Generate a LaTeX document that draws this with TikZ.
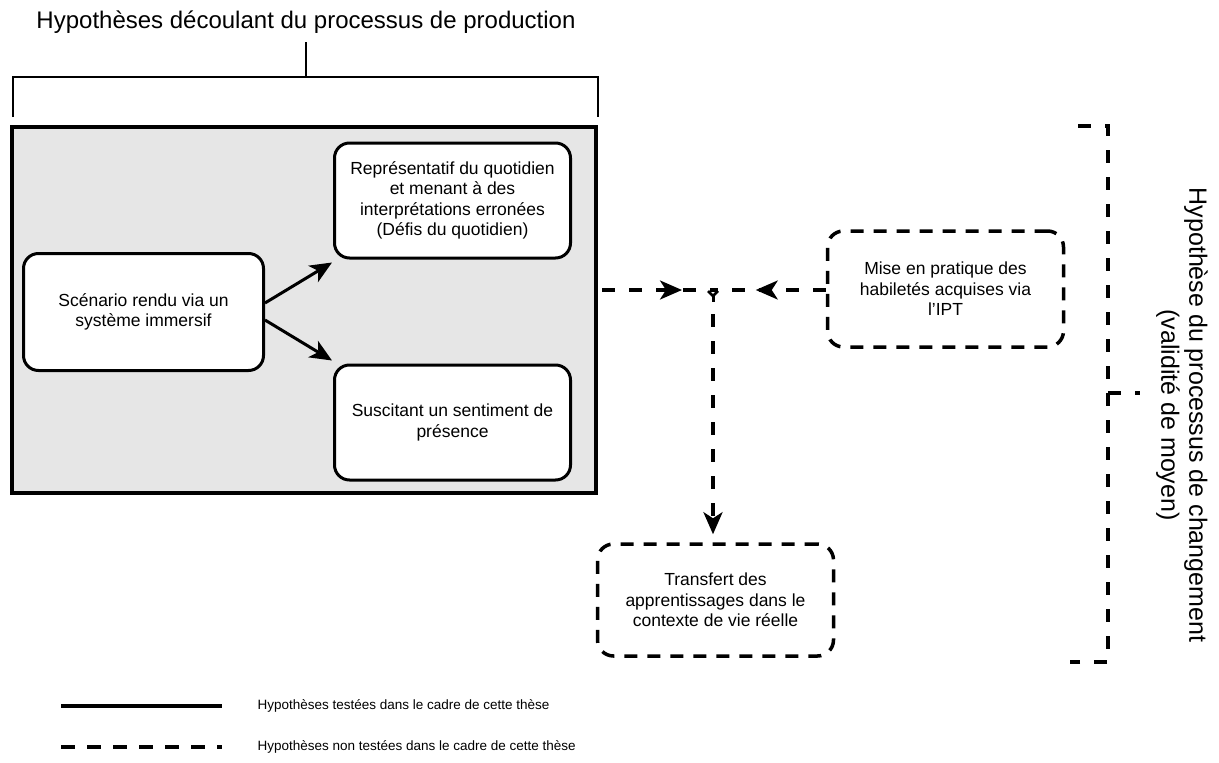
\documentclass[tikz,border=0pt]{standalone}
\usepackage{fontspec}
\setmainfont{Liberation Sans}
\usetikzlibrary{arrows.meta,calc,decorations.markings}
\definecolor{framefill}{HTML}{E6E6E6}
\tikzset{flowhead/.tip={Stealth[length=22pt,width=19pt,inset=6pt]}}
\begin{document}
\begin{tikzpicture}[x=1pt,y=-1pt,
  boxtext/.style={font=\fontsize{17.5}{20.5}\selectfont, align=center, text=black},
  solidbox/.style={boxtext, draw, line width=3pt, rounded corners=15pt, fill=white,
    inner sep=0pt},
  dashbox/.style={boxtext, draw, line width=3.5pt, dash pattern=on 13pt off 10pt,
    rounded corners=16pt, fill=white, inner sep=0pt},
  framebox/.style={draw, line width=4pt, fill=framefill, inner sep=0pt},
  solidlink/.style={line width=3pt, -flowhead},
  dashlink/.style={line width=3.5pt, dash pattern=on 13pt off 14pt},
  bracket/.style={line width=2pt},
  dashbracket/.style={line width=3.5pt, dash pattern=on 13pt off 14pt},
  legendtext/.style={font=\fontsize{13.5}{16}\selectfont, anchor=west}
]
\useasboundingbox (0,0) rectangle (1219,763);

% title and its bracket
\node[font=\fontsize{24}{28}\selectfont] (title) at (306,22)
  {Hypothèses découlant du processus de production};
\coordinate (brL) at (13,117);
\coordinate (brLtop) at (13,77);
\coordinate (brRtop) at (598,77);
\coordinate (brR) at (598,117);
\coordinate (brMid) at (306,77);
\coordinate (brTick) at (306,42);
\draw[bracket] (brL) -- (brLtop) -- (brRtop) -- (brR);
\draw[bracket] (brMid) -- (brTick);

% grey frame with the tested hypotheses
\node[framebox, minimum width=584pt, minimum height=366pt] (frame) at (304,310) {};

\node[solidbox, minimum width=240pt, minimum height=117pt] (scen) at (143.5,312)
  {Scénario rendu via un\\système immersif};
\node[solidbox, minimum width=236pt, minimum height=115pt] (repr) at (452.5,200.5)
  {Représentatif du quotidien\\et menant à des\\interprétations erronées\\(Défis du quotidien)};
\node[solidbox, minimum width=236pt, minimum height=115pt] (pres) at (452.5,422.5)
  {Suscitant un sentiment de\\présence};

\draw[solidlink] ([yshift=9pt]scen.east) -- ([xshift=-1pt,yshift=-3pt]repr.south west);
\draw[solidlink] ([yshift=-8pt]scen.east) -- ([xshift=-1pt,yshift=3pt]pres.north west);

% untested hypotheses
\node[dashbox, minimum width=236pt, minimum height=116pt] (mise) at (945.5,289)
  {Mise en pratique des\\habiletés acquises via\\l'IPT};
\node[dashbox, minimum width=236pt, minimum height=112pt] (transf) at (715.5,600)
  {Transfert des\\apprentissages dans le\\contexte de vie réelle};

\coordinate (J) at (713,290);
\draw[dashlink, postaction={decorate},
  decoration={markings, mark=at position 80pt with {\arrow[line width=3pt]{flowhead}}}]
  ($(frame.east |- J)+(4,0)$) -- (J);
\draw[dashlink, postaction={decorate},
  decoration={markings, mark=at position 70pt with {\arrow[line width=3pt]{flowhead}}}]
  (mise.west |- J) -- (J);
% small junction mark
\draw[line width=2.5pt] ($(J)+(-5,1)$) -- ($(J)+(0,6)$) -- ($(J)+(5,1)$);
\draw[line width=3pt] ($(J)+(0,6)$) -- ($(J)+(0,12)$);
\draw[dashlink, -flowhead]
  ($(J)+(0,24)$) -- ($(J |- transf.north)+(0,-8)$);

% bracket of the change process
\coordinate (rbTopL) at (1078,126);
\coordinate (rbTop) at (1108,126);
\coordinate (rbBot) at (1108,662);
\coordinate (rbBotL) at (1070,662);
\coordinate (rbMid) at (1108,393);
\coordinate (rbTick) at (1140,393);
\draw[dashbracket] (rbTopL) -- (rbTop) -- (rbBot) -- (rbBotL);
\draw[dashbracket] (rbMid) -- (rbTick);
\node[rotate=-90, font=\fontsize{25}{28}\selectfont, align=center] (change) at (1182,415)
  {Hypothèse du processus de changement\\(validité de moyen)};

% legend
\coordinate (lgA1) at (61,706);
\coordinate (lgA2) at (222,706);
\coordinate (lgB1) at (61,747);
\coordinate (lgB2) at (222,747);
\draw[line width=4pt] (lgA1) -- (lgA2);
\draw[line width=4pt, dash pattern=on 14pt off 12pt] (lgB1) -- (lgB2);
\node[legendtext] (lgAt) at (254,706) {Hypothèses testées dans le cadre de cette thèse};
\node[legendtext] (lgBt) at (254,747) {Hypothèses non testées dans le cadre de cette thèse};
\end{tikzpicture}
\end{document}
